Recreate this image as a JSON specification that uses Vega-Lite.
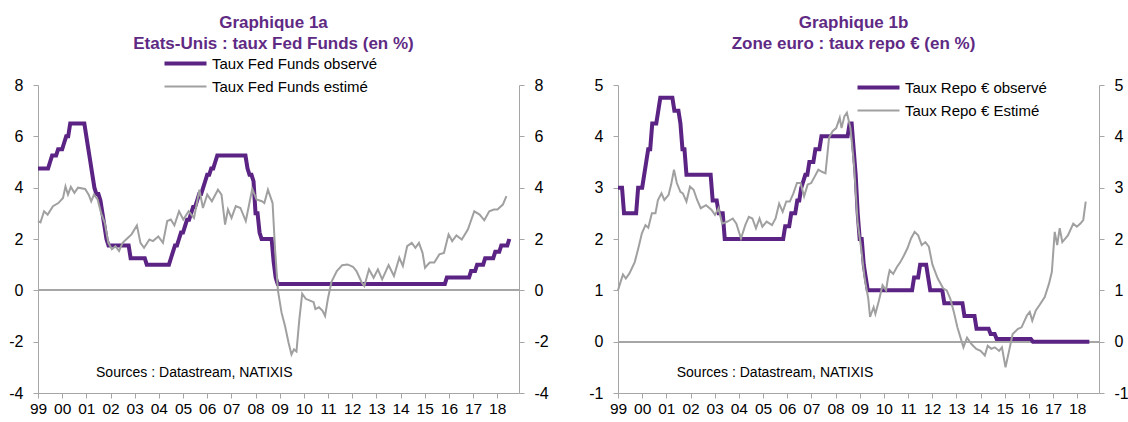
{
  "$schema": "https://vega.github.io/schema/vega-lite/v6.json",
  "background": "white",
  "padding": {"left": 8, "top": 14, "right": 0, "bottom": 0},
  "bounds": "flush",
  "spacing": 99,
  "config": {
    "font": "Liberation Sans",
    "view": {"stroke": null},
    "axis": {"domainColor": "#A6A6A6", "tickColor": "#A6A6A6", "labelColor": "#000000", "labelFont": "Liberation Sans", "labelFontSize": 16, "grid": false, "tickSize": 5, "title": null, "domainWidth": 1, "tickWidth": 1},
    "axisX": {"labelOverlap": false, "labelPadding": 3, "labelFlush": false, "labelFontSize": 15.5},
    "legend": {"labelFont": "Liberation Sans", "labelFontSize": 15, "labelColor": "#000000", "padding": 0, "labelLimit": 400},
    "title": {"font": "Liberation Sans", "fontSize": 17, "fontWeight": "bold", "color": "#5F2A84", "anchor": "middle", "frame": "group", "lineHeight": 21, "dx": -5}
  },
  "datasets": {
    "fed": [
      {"s":"obs","t":1999.0,"v":4.75},{"s":"obs","t":1999.417,"v":4.75},{"s":"obs","t":1999.5,"v":5.0},{"s":"obs","t":1999.583,"v":5.25},{"s":"obs","t":1999.75,"v":5.25},{"s":"obs","t":1999.833,"v":5.5},{"s":"obs","t":2000.0,"v":5.5},{"s":"obs","t":2000.083,"v":5.75},{"s":"obs","t":2000.167,"v":6.0},{"s":"obs","t":2000.25,"v":6.0},{"s":"obs","t":2000.333,"v":6.5},{"s":"obs","t":2000.917,"v":6.5},{"s":"obs","t":2001.0,"v":6.0},{"s":"obs","t":2001.083,"v":5.5},{"s":"obs","t":2001.167,"v":5.0},{"s":"obs","t":2001.25,"v":4.5},{"s":"obs","t":2001.333,"v":4.0},{"s":"obs","t":2001.417,"v":3.75},{"s":"obs","t":2001.5,"v":3.75},{"s":"obs","t":2001.583,"v":3.5},{"s":"obs","t":2001.667,"v":3.0},{"s":"obs","t":2001.75,"v":2.5},{"s":"obs","t":2001.833,"v":2.0},{"s":"obs","t":2001.917,"v":1.75},{"s":"obs","t":2002.75,"v":1.75},{"s":"obs","t":2002.833,"v":1.25},{"s":"obs","t":2003.417,"v":1.25},{"s":"obs","t":2003.5,"v":1.0},{"s":"obs","t":2004.417,"v":1.0},{"s":"obs","t":2004.5,"v":1.25},{"s":"obs","t":2004.583,"v":1.5},{"s":"obs","t":2004.667,"v":1.75},{"s":"obs","t":2004.75,"v":1.75},{"s":"obs","t":2004.833,"v":2.0},{"s":"obs","t":2004.917,"v":2.25},{"s":"obs","t":2005.0,"v":2.25},{"s":"obs","t":2005.083,"v":2.5},{"s":"obs","t":2005.167,"v":2.75},{"s":"obs","t":2005.25,"v":2.75},{"s":"obs","t":2005.333,"v":3.0},{"s":"obs","t":2005.417,"v":3.25},{"s":"obs","t":2005.5,"v":3.25},{"s":"obs","t":2005.583,"v":3.5},{"s":"obs","t":2005.667,"v":3.75},{"s":"obs","t":2005.75,"v":3.75},{"s":"obs","t":2005.833,"v":4.0},{"s":"obs","t":2005.917,"v":4.25},{"s":"obs","t":2006.0,"v":4.5},{"s":"obs","t":2006.083,"v":4.5},{"s":"obs","t":2006.167,"v":4.75},{"s":"obs","t":2006.25,"v":4.75},{"s":"obs","t":2006.333,"v":5.0},{"s":"obs","t":2006.417,"v":5.25},{"s":"obs","t":2007.583,"v":5.25},{"s":"obs","t":2007.667,"v":4.75},{"s":"obs","t":2007.75,"v":4.5},{"s":"obs","t":2007.833,"v":4.5},{"s":"obs","t":2007.917,"v":4.25},{"s":"obs","t":2008.0,"v":3.0},{"s":"obs","t":2008.083,"v":3.0},{"s":"obs","t":2008.167,"v":2.25},{"s":"obs","t":2008.25,"v":2.0},{"s":"obs","t":2008.667,"v":2.0},{"s":"obs","t":2008.75,"v":1.1},{"s":"obs","t":2008.833,"v":0.5},{"s":"obs","t":2008.917,"v":0.25},{"s":"obs","t":2015.833,"v":0.25},{"s":"obs","t":2015.917,"v":0.5},{"s":"obs","t":2016.833,"v":0.5},{"s":"obs","t":2016.917,"v":0.75},{"s":"obs","t":2017.083,"v":0.75},{"s":"obs","t":2017.167,"v":1.0},{"s":"obs","t":2017.417,"v":1.0},{"s":"obs","t":2017.5,"v":1.25},{"s":"obs","t":2017.833,"v":1.25},{"s":"obs","t":2017.917,"v":1.5},{"s":"obs","t":2018.083,"v":1.5},{"s":"obs","t":2018.167,"v":1.75},{"s":"obs","t":2018.417,"v":1.75},{"s":"obs","t":2018.5,"v":2.0},
      {"s":"est","t":1999.0,"v":2.7},{"s":"est","t":1999.103,"v":2.65},{"s":"est","t":1999.251,"v":3.08},{"s":"est","t":1999.399,"v":2.95},{"s":"est","t":1999.62,"v":3.28},{"s":"est","t":1999.842,"v":3.4},{"s":"est","t":2000.034,"v":3.6},{"s":"est","t":2000.137,"v":4.05},{"s":"est","t":2000.241,"v":3.73},{"s":"est","t":2000.359,"v":4.03},{"s":"est","t":2000.507,"v":3.8},{"s":"est","t":2000.654,"v":4.0},{"s":"est","t":2000.95,"v":3.95},{"s":"est","t":2001.097,"v":3.73},{"s":"est","t":2001.201,"v":3.47},{"s":"est","t":2001.319,"v":3.73},{"s":"est","t":2001.467,"v":3.54},{"s":"est","t":2001.614,"v":3.0},{"s":"est","t":2001.762,"v":2.63},{"s":"est","t":2001.91,"v":1.85},{"s":"est","t":2002.058,"v":1.6},{"s":"est","t":2002.205,"v":1.72},{"s":"est","t":2002.353,"v":1.53},{"s":"est","t":2002.501,"v":1.85},{"s":"est","t":2002.722,"v":2.05},{"s":"est","t":2002.87,"v":2.18},{"s":"est","t":2003.092,"v":2.53},{"s":"est","t":2003.239,"v":1.85},{"s":"est","t":2003.387,"v":1.66},{"s":"est","t":2003.609,"v":1.98},{"s":"est","t":2003.756,"v":1.92},{"s":"est","t":2003.978,"v":2.1},{"s":"est","t":2004.17,"v":1.85},{"s":"est","t":2004.347,"v":2.7},{"s":"est","t":2004.495,"v":2.76},{"s":"est","t":2004.643,"v":2.53},{"s":"est","t":2004.835,"v":3.08},{"s":"est","t":2005.012,"v":2.76},{"s":"est","t":2005.233,"v":3.08},{"s":"est","t":2005.455,"v":2.82},{"s":"est","t":2005.677,"v":3.92},{"s":"est","t":2005.824,"v":3.21},{"s":"est","t":2006.002,"v":3.73},{"s":"est","t":2006.194,"v":3.47},{"s":"est","t":2006.445,"v":3.92},{"s":"est","t":2006.592,"v":3.73},{"s":"est","t":2006.74,"v":2.56},{"s":"est","t":2006.858,"v":3.15},{"s":"est","t":2007.006,"v":2.82},{"s":"est","t":2007.183,"v":3.28},{"s":"est","t":2007.375,"v":3.21},{"s":"est","t":2007.597,"v":2.7},{"s":"est","t":2007.863,"v":3.95},{"s":"est","t":2008.04,"v":3.54},{"s":"est","t":2008.261,"v":3.47},{"s":"est","t":2008.365,"v":3.4},{"s":"est","t":2008.513,"v":3.92},{"s":"est","t":2008.705,"v":3.4},{"s":"est","t":2008.808,"v":1.6},{"s":"est","t":2008.926,"v":0.0},{"s":"est","t":2009.074,"v":-0.86},{"s":"est","t":2009.222,"v":-1.4},{"s":"est","t":2009.369,"v":-2.05},{"s":"est","t":2009.487,"v":-2.5},{"s":"est","t":2009.591,"v":-2.3},{"s":"est","t":2009.694,"v":-2.38},{"s":"est","t":2009.812,"v":-1.13},{"s":"est","t":2009.93,"v":-0.13},{"s":"est","t":2010.078,"v":-0.33},{"s":"est","t":2010.256,"v":-0.4},{"s":"est","t":2010.403,"v":-0.46},{"s":"est","t":2010.477,"v":-0.73},{"s":"est","t":2010.625,"v":-0.66},{"s":"est","t":2010.773,"v":-0.8},{"s":"est","t":2010.876,"v":-1.0},{"s":"est","t":2010.994,"v":-0.33},{"s":"est","t":2011.142,"v":0.33},{"s":"est","t":2011.363,"v":0.75},{"s":"est","t":2011.585,"v":0.98},{"s":"est","t":2011.807,"v":1.01},{"s":"est","t":2012.028,"v":0.92},{"s":"est","t":2012.176,"v":0.75},{"s":"est","t":2012.398,"v":0.3},{"s":"est","t":2012.501,"v":0.17},{"s":"est","t":2012.693,"v":0.82},{"s":"est","t":2012.885,"v":0.49},{"s":"est","t":2013.062,"v":0.82},{"s":"est","t":2013.239,"v":0.43},{"s":"est","t":2013.505,"v":0.98},{"s":"est","t":2013.727,"v":0.56},{"s":"est","t":2013.948,"v":1.27},{"s":"est","t":2014.096,"v":0.95},{"s":"est","t":2014.273,"v":1.72},{"s":"est","t":2014.465,"v":1.85},{"s":"est","t":2014.613,"v":1.66},{"s":"est","t":2014.761,"v":1.85},{"s":"est","t":2014.909,"v":1.46},{"s":"est","t":2015.012,"v":0.88},{"s":"est","t":2015.204,"v":1.08},{"s":"est","t":2015.396,"v":1.08},{"s":"est","t":2015.603,"v":1.4},{"s":"est","t":2015.795,"v":1.46},{"s":"est","t":2015.987,"v":2.18},{"s":"est","t":2016.135,"v":1.92},{"s":"est","t":2016.312,"v":2.14},{"s":"est","t":2016.533,"v":1.98},{"s":"est","t":2016.784,"v":2.37},{"s":"est","t":2017.05,"v":3.08},{"s":"est","t":2017.272,"v":2.95},{"s":"est","t":2017.464,"v":2.73},{"s":"est","t":2017.67,"v":3.08},{"s":"est","t":2017.862,"v":3.15},{"s":"est","t":2018.01,"v":3.15},{"s":"est","t":2018.232,"v":3.34},{"s":"est","t":2018.38,"v":3.67}
    ],
    "ecb": [
      {"s":"obs","t":1999.0,"v":3.0},{"s":"obs","t":1999.167,"v":3.0},{"s":"obs","t":1999.25,"v":2.5},{"s":"obs","t":1999.75,"v":2.5},{"s":"obs","t":1999.833,"v":3.0},{"s":"obs","t":2000.0,"v":3.0},{"s":"obs","t":2000.083,"v":3.25},{"s":"obs","t":2000.167,"v":3.5},{"s":"obs","t":2000.25,"v":3.75},{"s":"obs","t":2000.333,"v":3.75},{"s":"obs","t":2000.417,"v":4.25},{"s":"obs","t":2000.583,"v":4.25},{"s":"obs","t":2000.667,"v":4.5},{"s":"obs","t":2000.75,"v":4.75},{"s":"obs","t":2001.25,"v":4.75},{"s":"obs","t":2001.333,"v":4.5},{"s":"obs","t":2001.5,"v":4.5},{"s":"obs","t":2001.583,"v":4.25},{"s":"obs","t":2001.667,"v":3.75},{"s":"obs","t":2001.75,"v":3.75},{"s":"obs","t":2001.833,"v":3.25},{"s":"obs","t":2002.833,"v":3.25},{"s":"obs","t":2002.917,"v":2.75},{"s":"obs","t":2003.083,"v":2.75},{"s":"obs","t":2003.167,"v":2.5},{"s":"obs","t":2003.333,"v":2.5},{"s":"obs","t":2003.417,"v":2.0},{"s":"obs","t":2005.833,"v":2.0},{"s":"obs","t":2005.917,"v":2.25},{"s":"obs","t":2006.083,"v":2.25},{"s":"obs","t":2006.167,"v":2.5},{"s":"obs","t":2006.333,"v":2.5},{"s":"obs","t":2006.417,"v":2.75},{"s":"obs","t":2006.5,"v":2.75},{"s":"obs","t":2006.583,"v":3.0},{"s":"obs","t":2006.75,"v":3.25},{"s":"obs","t":2006.833,"v":3.25},{"s":"obs","t":2006.917,"v":3.5},{"s":"obs","t":2007.083,"v":3.5},{"s":"obs","t":2007.167,"v":3.75},{"s":"obs","t":2007.333,"v":3.75},{"s":"obs","t":2007.417,"v":4.0},{"s":"obs","t":2008.5,"v":4.0},{"s":"obs","t":2008.583,"v":4.25},{"s":"obs","t":2008.667,"v":4.25},{"s":"obs","t":2008.75,"v":3.75},{"s":"obs","t":2008.833,"v":3.25},{"s":"obs","t":2008.917,"v":2.5},{"s":"obs","t":2009.0,"v":2.0},{"s":"obs","t":2009.083,"v":2.0},{"s":"obs","t":2009.167,"v":1.5},{"s":"obs","t":2009.25,"v":1.25},{"s":"obs","t":2009.333,"v":1.0},{"s":"obs","t":2011.167,"v":1.0},{"s":"obs","t":2011.25,"v":1.25},{"s":"obs","t":2011.417,"v":1.25},{"s":"obs","t":2011.5,"v":1.5},{"s":"obs","t":2011.75,"v":1.5},{"s":"obs","t":2011.833,"v":1.25},{"s":"obs","t":2011.917,"v":1.0},{"s":"obs","t":2012.417,"v":1.0},{"s":"obs","t":2012.5,"v":0.75},{"s":"obs","t":2013.25,"v":0.75},{"s":"obs","t":2013.333,"v":0.5},{"s":"obs","t":2013.75,"v":0.5},{"s":"obs","t":2013.833,"v":0.25},{"s":"obs","t":2014.333,"v":0.25},{"s":"obs","t":2014.417,"v":0.15},{"s":"obs","t":2014.583,"v":0.15},{"s":"obs","t":2014.667,"v":0.05},{"s":"obs","t":2016.083,"v":0.05},{"s":"obs","t":2016.167,"v":0.0},{"s":"obs","t":2018.5,"v":0.0},
      {"s":"est","t":1999.0,"v":1.0},{"s":"est","t":1999.103,"v":1.16},{"s":"est","t":1999.206,"v":1.31},{"s":"est","t":1999.324,"v":1.23},{"s":"est","t":1999.472,"v":1.33},{"s":"est","t":1999.693,"v":1.55},{"s":"est","t":1999.841,"v":1.82},{"s":"est","t":1999.988,"v":2.11},{"s":"est","t":2000.136,"v":2.27},{"s":"est","t":2000.254,"v":2.22},{"s":"est","t":2000.401,"v":2.5},{"s":"est","t":2000.549,"v":2.5},{"s":"est","t":2000.652,"v":2.76},{"s":"est","t":2000.799,"v":2.89},{"s":"est","t":2000.917,"v":2.76},{"s":"est","t":2001.094,"v":2.86},{"s":"est","t":2001.198,"v":3.06},{"s":"est","t":2001.316,"v":3.35},{"s":"est","t":2001.434,"v":3.09},{"s":"est","t":2001.581,"v":2.92},{"s":"est","t":2001.684,"v":2.89},{"s":"est","t":2001.832,"v":2.73},{"s":"est","t":2001.979,"v":3.02},{"s":"est","t":2002.127,"v":2.96},{"s":"est","t":2002.274,"v":2.76},{"s":"est","t":2002.422,"v":2.6},{"s":"est","t":2002.643,"v":2.66},{"s":"est","t":2002.864,"v":2.57},{"s":"est","t":2003.012,"v":2.47},{"s":"est","t":2003.159,"v":2.6},{"s":"est","t":2003.307,"v":2.3},{"s":"est","t":2003.528,"v":2.34},{"s":"est","t":2003.749,"v":2.4},{"s":"est","t":2003.897,"v":2.3},{"s":"est","t":2004.088,"v":2.01},{"s":"est","t":2004.265,"v":2.27},{"s":"est","t":2004.413,"v":2.43},{"s":"est","t":2004.56,"v":2.4},{"s":"est","t":2004.708,"v":2.21},{"s":"est","t":2004.855,"v":2.4},{"s":"est","t":2004.973,"v":2.24},{"s":"est","t":2005.15,"v":2.34},{"s":"est","t":2005.372,"v":2.27},{"s":"est","t":2005.519,"v":2.4},{"s":"est","t":2005.667,"v":2.69},{"s":"est","t":2005.814,"v":2.53},{"s":"est","t":2005.962,"v":2.73},{"s":"est","t":2006.109,"v":2.73},{"s":"est","t":2006.257,"v":2.89},{"s":"est","t":2006.404,"v":3.09},{"s":"est","t":2006.552,"v":3.09},{"s":"est","t":2006.699,"v":2.83},{"s":"est","t":2006.847,"v":3.06},{"s":"est","t":2006.994,"v":3.09},{"s":"est","t":2007.142,"v":3.22},{"s":"est","t":2007.289,"v":3.35},{"s":"est","t":2007.437,"v":3.31},{"s":"est","t":2007.584,"v":3.28},{"s":"est","t":2007.732,"v":3.97},{"s":"est","t":2007.879,"v":4.1},{"s":"est","t":2008.027,"v":4.16},{"s":"est","t":2008.174,"v":4.36},{"s":"est","t":2008.248,"v":4.16},{"s":"est","t":2008.366,"v":4.39},{"s":"est","t":2008.469,"v":4.46},{"s":"est","t":2008.617,"v":4.16},{"s":"est","t":2008.764,"v":3.45},{"s":"est","t":2008.912,"v":2.34},{"s":"est","t":2009.059,"v":1.82},{"s":"est","t":2009.206,"v":1.23},{"s":"est","t":2009.354,"v":0.84},{"s":"est","t":2009.428,"v":0.48},{"s":"est","t":2009.575,"v":0.67},{"s":"est","t":2009.649,"v":0.54},{"s":"est","t":2009.796,"v":0.8},{"s":"est","t":2009.944,"v":1.1},{"s":"est","t":2010.091,"v":1.0},{"s":"est","t":2010.165,"v":1.23},{"s":"est","t":2010.239,"v":1.39},{"s":"est","t":2010.386,"v":1.32},{"s":"est","t":2010.534,"v":1.45},{"s":"est","t":2010.681,"v":1.55},{"s":"est","t":2010.829,"v":1.68},{"s":"est","t":2010.976,"v":1.82},{"s":"est","t":2011.124,"v":2.01},{"s":"est","t":2011.271,"v":2.14},{"s":"est","t":2011.419,"v":2.07},{"s":"est","t":2011.566,"v":1.88},{"s":"est","t":2011.714,"v":1.94},{"s":"est","t":2011.861,"v":1.85},{"s":"est","t":2012.009,"v":1.5},{"s":"est","t":2012.23,"v":1.23},{"s":"est","t":2012.451,"v":1.04},{"s":"est","t":2012.599,"v":1.0},{"s":"est","t":2012.746,"v":0.84},{"s":"est","t":2012.894,"v":0.58},{"s":"est","t":2013.041,"v":0.28},{"s":"est","t":2013.189,"v":0.05},{"s":"est","t":2013.292,"v":-0.11},{"s":"est","t":2013.44,"v":0.08},{"s":"est","t":2013.631,"v":-0.05},{"s":"est","t":2013.823,"v":-0.14},{"s":"est","t":2014.0,"v":-0.18},{"s":"est","t":2014.177,"v":-0.27},{"s":"est","t":2014.295,"v":-0.08},{"s":"est","t":2014.442,"v":-0.14},{"s":"est","t":2014.59,"v":-0.11},{"s":"est","t":2014.767,"v":-0.18},{"s":"est","t":2014.885,"v":-0.11},{"s":"est","t":2015.032,"v":-0.5},{"s":"est","t":2015.18,"v":-0.18},{"s":"est","t":2015.327,"v":0.15},{"s":"est","t":2015.549,"v":0.25},{"s":"est","t":2015.696,"v":0.28},{"s":"est","t":2015.917,"v":0.51},{"s":"est","t":2016.035,"v":0.58},{"s":"est","t":2016.139,"v":0.41},{"s":"est","t":2016.286,"v":0.61},{"s":"est","t":2016.434,"v":0.71},{"s":"est","t":2016.655,"v":0.87},{"s":"est","t":2016.832,"v":1.13},{"s":"est","t":2016.95,"v":1.36},{"s":"est","t":2017.068,"v":2.14},{"s":"est","t":2017.171,"v":1.88},{"s":"est","t":2017.274,"v":2.21},{"s":"est","t":2017.383,"v":1.94},{"s":"est","t":2017.614,"v":2.07},{"s":"est","t":2017.835,"v":2.3},{"s":"est","t":2017.982,"v":2.24},{"s":"est","t":2018.13,"v":2.3},{"s":"est","t":2018.248,"v":2.37},{"s":"est","t":2018.351,"v":2.73}
    ]
  },
  "resolve": {"scale": {"color": "independent", "strokeWidth": "independent"}, "legend": {"color": "independent", "strokeWidth": "independent"}},
  "hconcat": [
    {
      "width": 481, "height": 308,
      "title": {"text": ["Graphique 1a", "Etats-Unis : taux Fed Funds (en %)"], "offset": 3},
      "data": {"name": "fed"},
      "resolve": {"scale": {"y": "independent"}},
      "layer": [
        {
          "mark": {"type": "rule", "color": "#A6A6A6", "strokeWidth": 1},
          "encoding": {"y": {"datum": 0, "type": "quantitative", "scale": {"domain": [-4, 8], "nice": false}, "axis": {"orient": "right", "values": [-4, -2, 0, 2, 4, 6, 8], "labelExpr": "toString(datum.value)", "labelPadding": 10, "labelAlign": "left"}}}
        },
        {
          "layer": [
            {
              "mark": {"type": "line"},
              "encoding": {
                "x": {"field": "t", "type": "quantitative", "scale": {"domain": [1999, 2018.9], "nice": false, "zero": false}, "axis": {"values": [1999,2000,2001,2002,2003,2004,2005,2006,2007,2008,2009,2010,2011,2012,2013,2014,2015,2016,2017,2018], "tickCount": 40, "labelExpr": "slice(toString(datum.value), 2)", "labelOverlap": false}},
                "y": {"field": "v", "type": "quantitative", "scale": {"domain": [-4, 8], "nice": false}, "axis": {"orient": "left", "values": [-4, -2, 0, 2, 4, 6, 8], "labelExpr": "toString(datum.value)", "labelPadding": 10}},
                "color": {"field": "s", "type": "nominal", "sort": null, "scale": {"domain": ["obs", "est"], "range": ["#5B2383", "#A0A0A0"]}, "legend": {"title": null, "orient": "none", "legendX": 140, "legendY": -29, "symbolType": "M-4.2,0H4.2", "symbolSize": 100, "labelOffset": 19, "rowPadding": 7, "labelExpr": "datum.label == 'obs' ? 'Taux Fed Funds observé' : 'Taux Fed Funds estimé'", "encode": {"symbols": {"update": {"strokeWidth": {"signal": "datum.value == 'obs' ? 4 : 2"}}}}}},
                "strokeWidth": {"field": "s", "type": "nominal", "scale": {"type": "ordinal", "domain": ["obs", "est"], "range": [4, 2]}, "legend": null}
              }
            },
            {
              "data": {"values": [{"t": 2001.4, "v": -3.22, "txt": "Sources : Datastream, NATIXIS"}]},
              "mark": {"type": "text", "align": "left", "baseline": "middle", "fontSize": 14, "font": "Liberation Sans", "color": "#000000"},
              "encoding": {
                "x": {"field": "t", "type": "quantitative"},
                "y": {"field": "v", "type": "quantitative"},
                "text": {"field": "txt"}
              }
            }
          ]
        }
      ]
    },
    {
      "width": 481, "height": 308,
      "title": {"text": ["Graphique 1b", "Zone euro : taux repo € (en %)"], "offset": 24},
      "data": {"name": "ecb"},
      "resolve": {"scale": {"y": "independent"}},
      "layer": [
        {
          "mark": {"type": "rule", "color": "#A6A6A6", "strokeWidth": 1},
          "encoding": {"y": {"datum": 0, "type": "quantitative", "scale": {"domain": [-1, 5], "nice": false}, "axis": {"orient": "right", "values": [-1, 0, 1, 2, 3, 4, 5], "labelExpr": "toString(datum.value)", "labelPadding": 10, "labelAlign": "left"}}}
        },
        {
          "layer": [
            {
              "mark": {"type": "line"},
              "encoding": {
                "x": {"field": "t", "type": "quantitative", "scale": {"domain": [1999, 2018.9], "nice": false, "zero": false}, "axis": {"values": [1999,2000,2001,2002,2003,2004,2005,2006,2007,2008,2009,2010,2011,2012,2013,2014,2015,2016,2017,2018], "tickCount": 40, "labelExpr": "slice(toString(datum.value), 2)", "labelOverlap": false}},
                "y": {"field": "v", "type": "quantitative", "scale": {"domain": [-1, 5], "nice": false}, "axis": {"orient": "left", "values": [-1, 0, 1, 2, 3, 4, 5], "labelExpr": "toString(datum.value)", "labelPadding": 10}},
                "color": {"field": "s", "type": "nominal", "sort": null, "scale": {"domain": ["obs", "est"], "range": ["#5B2383", "#A0A0A0"]}, "legend": {"title": null, "orient": "none", "legendX": 253, "legendY": -5, "symbolType": "M-4.2,0H4.2", "symbolSize": 100, "labelOffset": 19, "rowPadding": 7, "labelExpr": "datum.label == 'obs' ? 'Taux Repo € observé' : 'Taux Repo € Estimé'", "encode": {"symbols": {"update": {"strokeWidth": {"signal": "datum.value == 'obs' ? 4 : 2"}}}}}},
                "strokeWidth": {"field": "s", "type": "nominal", "scale": {"type": "ordinal", "domain": ["obs", "est"], "range": [4, 2]}, "legend": null}
              }
            },
            {
              "data": {"values": [{"t": 2001.43, "v": -0.61, "txt": "Sources : Datastream, NATIXIS"}]},
              "mark": {"type": "text", "align": "left", "baseline": "middle", "fontSize": 14, "font": "Liberation Sans", "color": "#000000"},
              "encoding": {
                "x": {"field": "t", "type": "quantitative"},
                "y": {"field": "v", "type": "quantitative"},
                "text": {"field": "txt"}
              }
            }
          ]
        }
      ]
    }
  ]
}
